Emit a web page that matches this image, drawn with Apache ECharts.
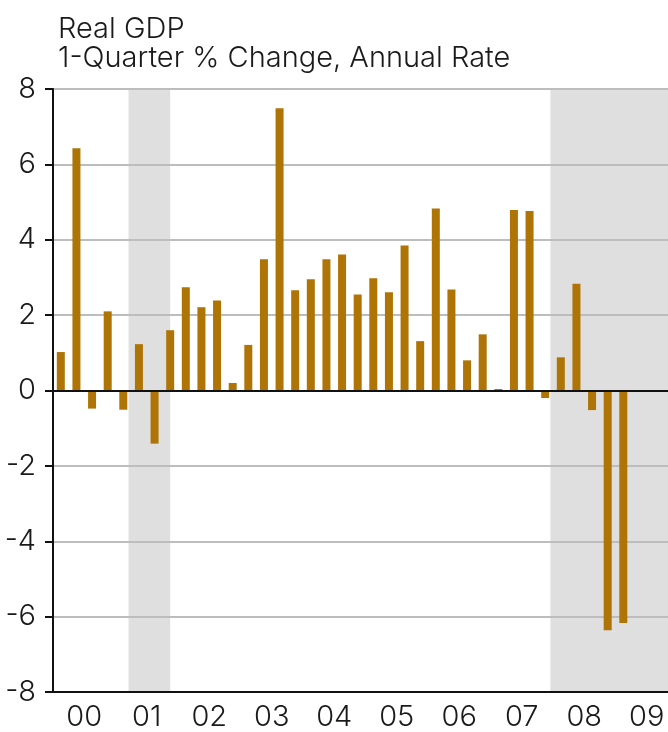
<!DOCTYPE html>
<html>
<head>
<meta charset="utf-8">
<script src="https://cdn.jsdelivr.net/npm/echarts@6/dist/echarts.min.js"></script>
<style>
  html, body { margin: 0; padding: 0; background: #fff; overflow: hidden; }
  /* the plot runs on past the right edge of the picture, as in the original */
  #chart { width: 678px; height: 732px; }
</style>
</head>
<body>
<div id="chart"></div>
<script>
// year labels, one per 4 quarters
var years = ['00', '01', '02', '03', '04', '05', '06', '07', '08', '09'];
// real GDP, 1-quarter % change at annual rate, 2000Q1 .. 2009Q1
var gdp2000 = [1.02, 6.43, -0.48, 2.10];
var gdp2001 = [-0.51, 1.23, -1.41, 1.60];
var gdp2002 = [2.74, 2.21, 2.39, 0.20];
var gdp2003 = [1.21, 3.48, 7.49, 2.66];
var gdp2004 = [2.95, 3.48, 3.61, 2.55];
var gdp2005 = [2.98, 2.61, 3.85, 1.31];
var gdp2006 = [4.83, 2.68, 0.80, 1.49];
var gdp2007 = [0.04, 4.79, 4.76, -0.20];
var gdp2008 = [0.88, 2.83, -0.52, -6.36];
var gdp2009 = [-6.17];
// recessions, [start month, end month] (null = still running)
var recessions = [['2001-03', '2001-11'], ['2007-12', null]];
var yTicks = [-8, -6, -4, -2, 0, 2, 4, 6, 8];

var FONT = 'Inter';
var BAR = '#ae7406';

var gdp = [].concat(gdp2000, gdp2001, gdp2002, gdp2003, gdp2004,
                    gdp2005, gdp2006, gdp2007, gdp2008, gdp2009);
var nQ = years.length * 4;

// month string -> position in quarters from 2000Q1 (middle of the month)
function monthPos(s) {
    if (s == null) return nQ;
    var p = s.split('-');
    return (+p[0] - 2000) * 4 + (+p[1] - 1 + 0.5) / 3;
}

var barData = gdp.map(function (v, i) { return [i + 0.5, v]; });
var shade = recessions.map(function (r) {
    return [{ xAxis: monthPos(r[0]) }, { xAxis: monthPos(r[1]) }];
});

var chart = echarts.init(document.getElementById('chart'));
chart.setOption({
    animation: false,
    title: {
        text: 'Real GDP\n1-Quarter % Change, Annual Rate',
        left: 53,
        top: 10,
        textStyle: {
            fontFamily: FONT,
            fontSize: 29,
            lineHeight: 29,
            fontWeight: 300,
            color: '#1a1a1a'
        }
    },
    grid: { left: 53, right: 0, top: 89, bottom: 38 },
    xAxis: [
        {
            type: 'category',
            data: years,
            position: 'bottom',
            axisLine: { onZero: false, lineStyle: { color: '#111', width: 2 } },
            axisTick: { length: 8, lineStyle: { color: '#111', width: 2 } },
            axisLabel: { margin: 11, fontFamily: FONT, fontSize: 29, fontWeight: 300, color: '#1a1a1a' },
            splitLine: { show: false },
            z: 4
        },
        {
            type: 'value',
            min: 0,
            max: nQ,
            position: 'bottom',
            axisLine: { onZero: true, lineStyle: { color: '#111', width: 2 } },
            axisTick: { show: false },
            axisLabel: { show: false },
            splitLine: { show: false },
            z: 4
        }
    ],
    yAxis: {
        type: 'value',
        min: yTicks[0],
        max: yTicks[yTicks.length - 1],
        interval: 2,
        axisLine: { show: true, lineStyle: { color: '#111', width: 2 } },
        axisTick: { show: true, length: 8, lineStyle: { color: '#111', width: 2 } },
        axisLabel: { margin: 17, fontFamily: FONT, fontSize: 29, fontWeight: 300, color: '#1a1a1a' },
        splitLine: { lineStyle: { color: '#bdbdbd', width: 2 } },
        z: 2
    },
    series: [
        {
            // recession shading
            type: 'bar',
            xAxisIndex: 1,
            data: [],
            z: 1,
            silent: true,
            markArea: {
                silent: true,
                itemStyle: { color: '#dfdfdf' },
                data: shade
            }
        },
        {
            type: 'bar',
            xAxisIndex: 1,
            data: barData,
            barWidth: 8,
            itemStyle: { color: BAR },
            z: 3
        }
    ]
});
</script>
</body>
</html>
